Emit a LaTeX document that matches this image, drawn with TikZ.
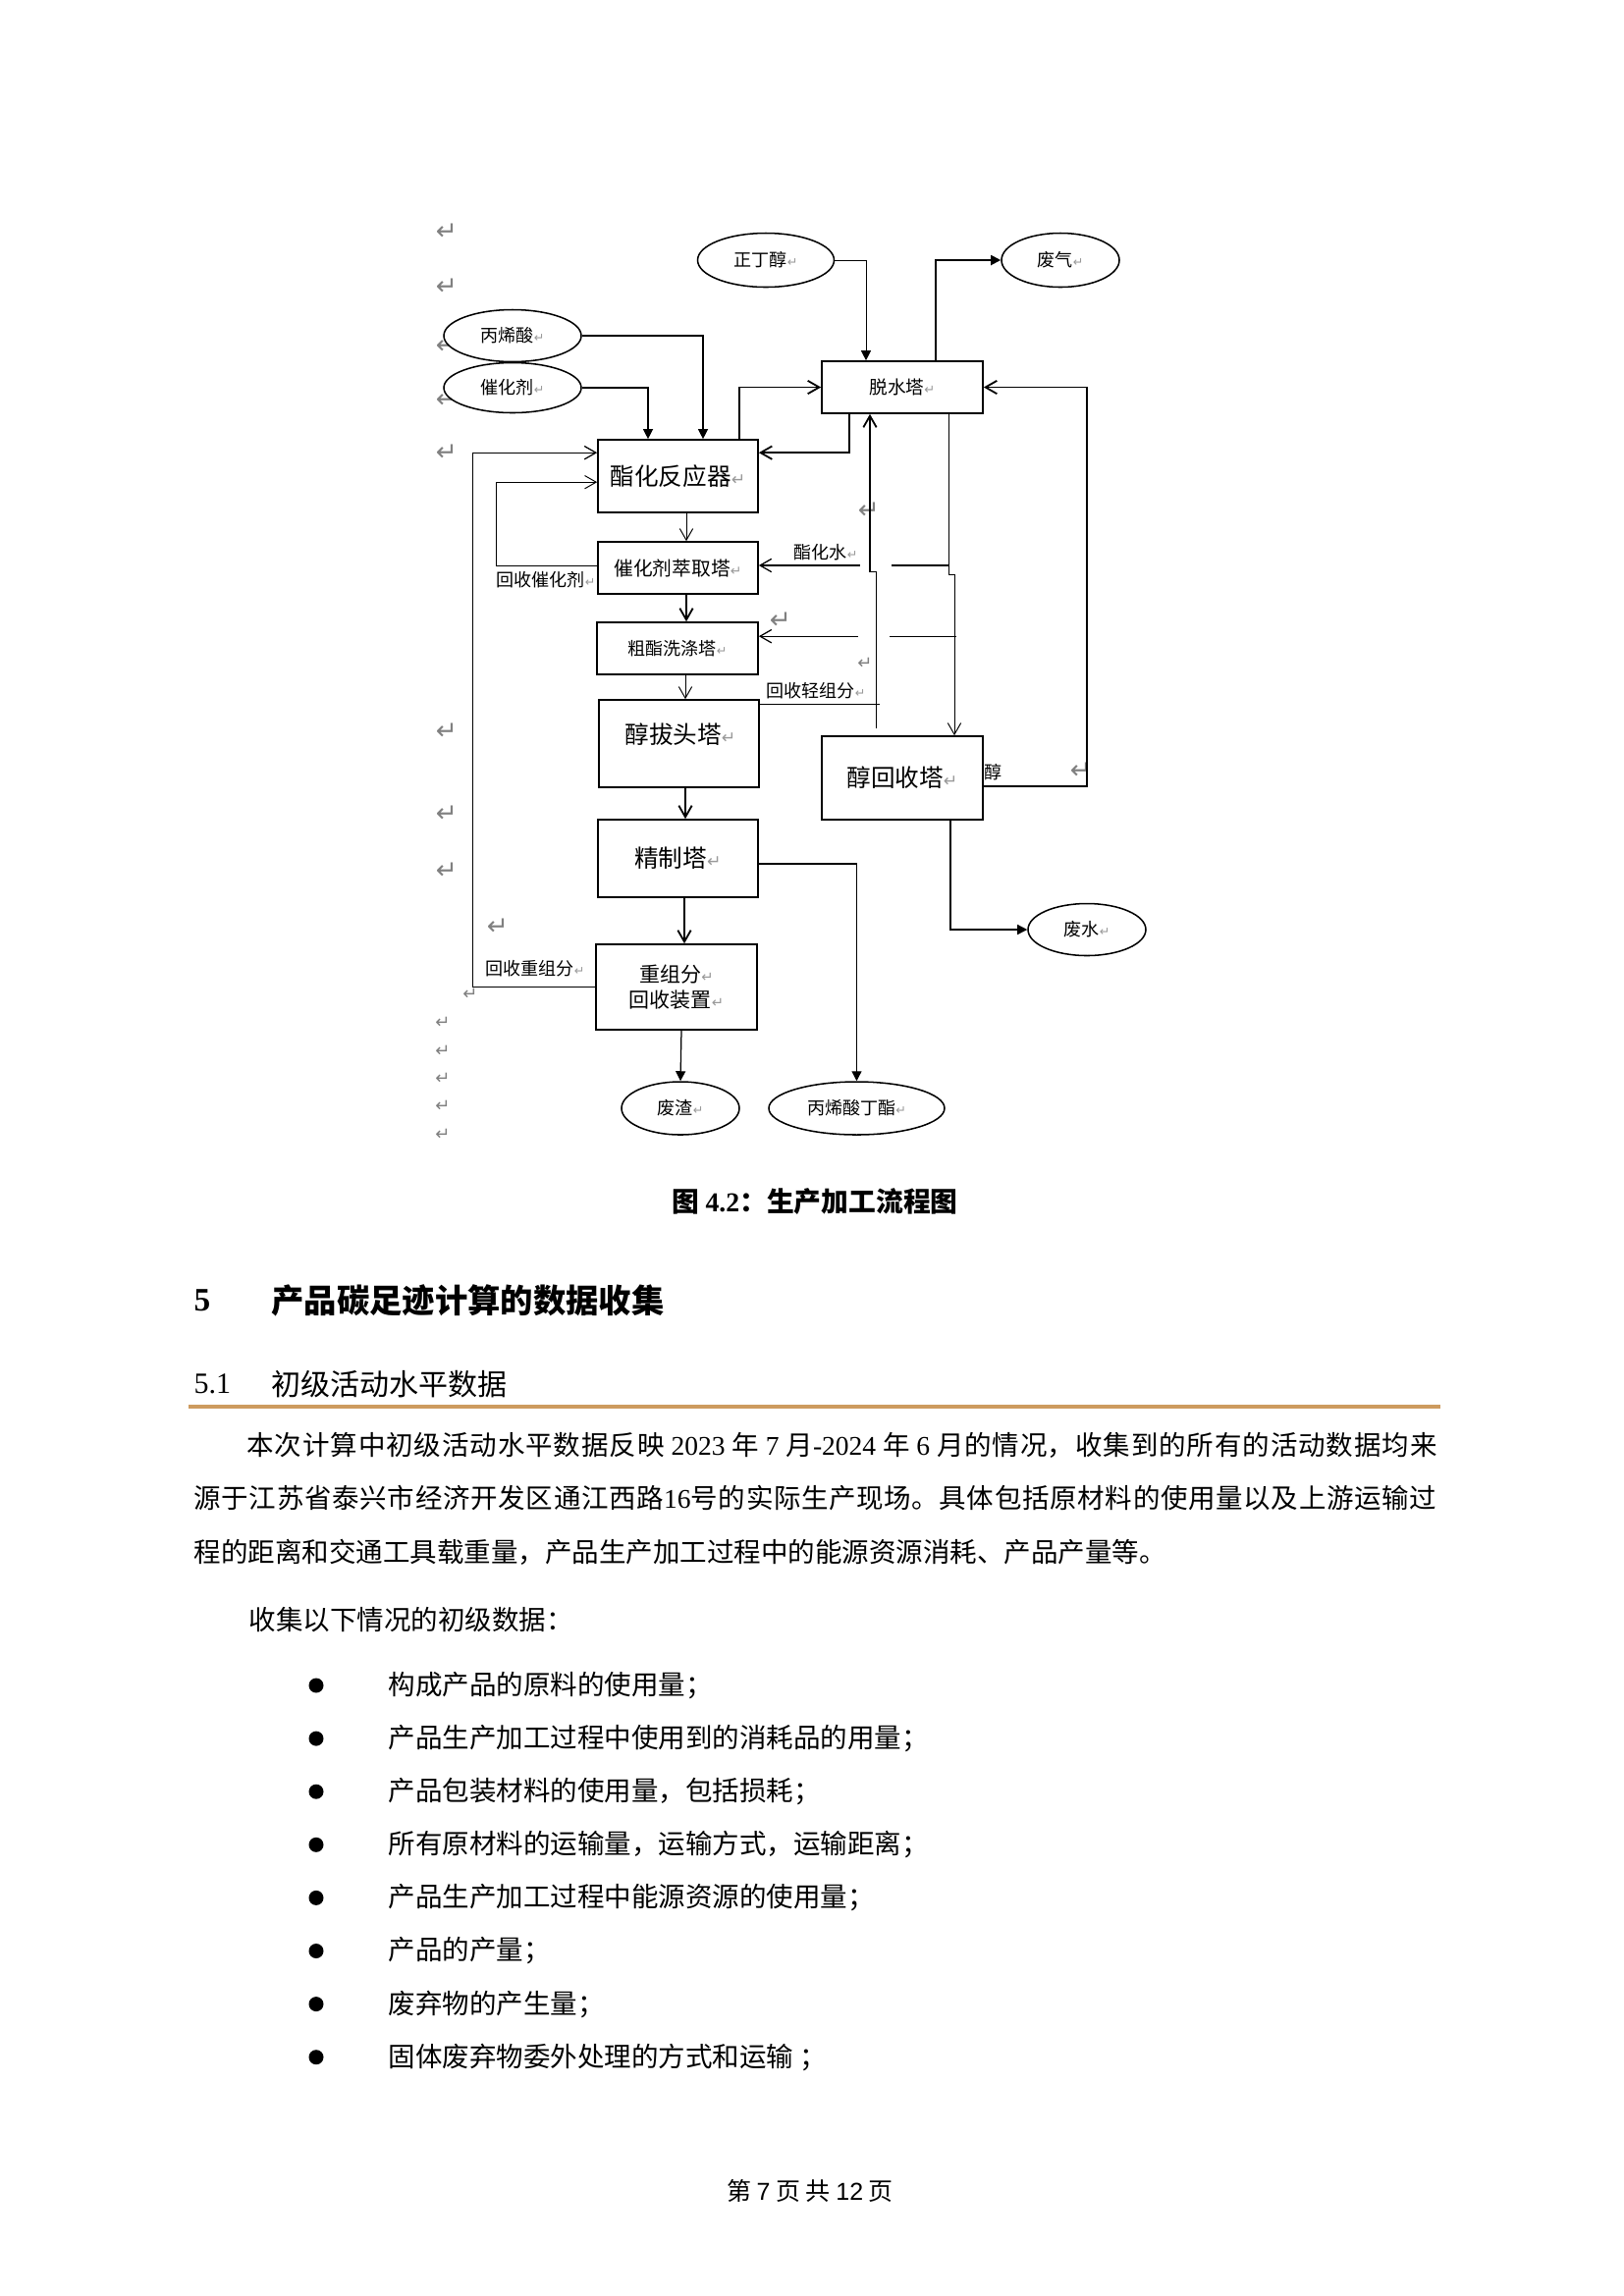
\documentclass[tikz,border=0pt]{standalone}
\usepackage{fontspec}
\setmainfont{Liberation Serif}
\newfontfamily\cjk{Noto Sans CJK SC}
\newfontfamily\dvs{DejaVu Sans}
\newfontfamily\lsans{Liberation Sans}
\usetikzlibrary{shapes.geometric,arrows.meta,calc}
\XeTeXlinebreaklocale "zh"
\XeTeXlinebreakskip=0pt plus 3pt
\newcommand\fs[1]{\fontsize{#1}{#1}\selectfont}
\newdimen\rtdim
\makeatletter
\newcommand\rt{{\rtdim=\f@size pt \rtdim=0.7\rtdim \color{black!40}\dvs\fontsize{\rtdim}{\rtdim}\selectfont ↵}}
\makeatother
\def\u{0.3599pt}
\definecolor{rulec}{RGB}{205,155,95}
\begin{document}
\begin{tikzpicture}[x=0.3599pt, y=-0.3599pt,
  pbox/.style={draw, rectangle, line width=0.6pt, inner sep=0pt, fill=white, align=center},
  ell/.style={draw, ellipse, line width=0.55pt, inner sep=0pt, fill=white, font=\cjk\fs{6.5}, minimum width=120*\u, minimum height=54*\u},
  lab/.style={inner sep=0pt, font=\cjk\fs{6.5}},
  bigmk/.style={inner sep=0pt, font=\dvs\fs{9.5}, text=black!50},
  smk/.style={inner sep=0pt, font=\dvs\fs{6.5}, text=black!50},
  thinl/.style={line width=0.35pt},
  medl/.style={line width=0.45pt},
  thickl/.style={line width=0.65pt},
  fa/.style={-{Triangle[length=3.6pt,width=3.6pt]}},
  oa/.style={-{Straight Barb[length=4.2pt,width=4.8pt]}},
  body/.style={anchor=west, inner sep=0pt, font=\cjk\fs{9.9}},
  jline/.style={anchor=west, inner sep=0pt, font=\cjk\fs{9.9}, align=justify},
  bul/.style={circle, fill=black, inner sep=0pt, minimum size=5.4pt}
]
\path[fill=white, use as bounding box] (0,0) rectangle (1654,2339);

% paragraph marks
\foreach \x/\y [count=\i] in {455/236,455/292,455/352,455/407,455/461,455/745,455/829,455/887,507/944,885/520,795/632,1101/785}
  \node[bigmk] (mk\i) at (\x,\y) {↵};
\foreach \x/\y [count=\i] in {479/1013,451/1042,451/1071,451/1099,451/1127,451/1156,881/676,697/790}
  \node[smk] (sk\i) at (\x,\y) {↵};

% nodes
\node[ell, minimum width=139*\u, minimum height=55*\u] (zdc) at (780,265) {正丁醇\rt};
\node[ell, minimum height=55*\u] (fq) at (1080,265) {废气\rt};
\node[ell, minimum width=140*\u, minimum height=53*\u] (bing) at (522,342) {丙烯酸\rt};
\node[ell, minimum width=140*\u, minimum height=51*\u] (cat) at (522,395) {催化剂\rt};
\node[pbox, minimum width=164*\u, minimum height=53*\u, font=\cjk\fs{6.7}] (tsh) at (919,394.5) {脱水塔\rt};
\node[pbox, minimum width=163*\u, minimum height=74*\u, font=\cjk\fs{8.85}] (rea) at (690.5,485) {酯化反应器\rt};
\node[pbox, minimum width=163*\u, minimum height=53*\u, font=\cjk\fs{7.1}] (ext) at (690.5,578.5) {催化剂萃取塔\rt};
\node[pbox, minimum width=164*\u, minimum height=53*\u, font=\cjk\fs{6.5}] (wash) at (690,660.5) {粗酯洗涤塔\rt};
\node[pbox, minimum width=163*\u, minimum height=89*\u] (strip) at (691.5,757.5) {};
\node[inner sep=0pt, font=\cjk\fs{8.85}] (tstrip) at (693,748) {醇拔头塔\rt};
\node[pbox, minimum width=163*\u, minimum height=79*\u, font=\cjk\fs{8.85}] (refine) at (690.5,874.5) {精制塔\rt};
\node[pbox, minimum width=164*\u, minimum height=87*\u, font=\cjk\fontsize{7.55}{9.4}\selectfont] (heavy) at (689,1005.5) {重组分\rt\\回收装置\rt};
\node[pbox, minimum width=164*\u, minimum height=85*\u, font=\cjk\fs{8.85}] (recov) at (919,792.5) {醇回收塔\rt};
\node[ell, minimum height=53*\u] (fs) at (1107,947) {废水\rt};
\node[ell] (fz) at (693,1129) {废渣\rt};
\node[ell, minimum width=179*\u] (prod) at (872.5,1129) {丙烯酸丁酯\rt};

% labels
\node[lab] (lzh) at (841,563) {酯化水\rt};
\node[lab] (lqz) at (831,704) {回收轻组分\rt};
\node[lab] (lcat) at (556,591) {回收催化剂\rt};
\node[lab] (lzz) at (545,987) {回收重组分\rt};
\node[lab] (lch) at (1012,787) {醇};

% connectors
\draw[medl,fa] (bing.east) -| ($(rea.north)+(25.5,0)$);
\draw[medl,fa] (cat.east) -| ($(rea.north)+(-30.5,0)$);
\draw[thinl,fa] (zdc.east) -| ($(tsh.north)+(-37,0)$);
\draw[thickl,fa] ($(tsh.north)+(34,0)$) |- (fq.west);
\draw[thickl,oa] ($(rea.north)+(62.5,0)$) |- (tsh.west);
\draw[thickl,oa] ($(tsh.south)+(-54,0)$) |- ($(rea.north east)+(0,14)$);
\draw[medl,oa] (heavy.west) -- ++(-125,0) |- ($(rea.north west)+(0,14)$);
\draw[thinl,oa] ($(ext.west)+(0,-2.5)$) -- ++(-103,0) |- ($(rea.north west)+(0,44)$);

\draw[thinl,oa] ($(rea.south)+(8.5,0)$) -- ($(ext.north)+(8.5,0)$);
\draw[thickl,oa] ($(ext.south)+(8.5,0)$) -- ($(wash.north)+(9,0)$);
\draw[thinl,oa] ($(wash.south)+(8,0)$) -- ($(strip.north)+(6.5,0)$);
\draw[thickl,oa] ($(strip.south)+(6.5,0)$) -- ($(refine.north)+(7.5,0)$);
\draw[thickl,oa] ($(refine.south)+(6.5,0)$) -- ($(heavy.north)+(8,0)$);
\draw[medl,fa] ($(heavy.south)+(5,0)$) -- (fz.north);
\draw[medl,fa] ($(refine.east)+(0,5.5)$) -| (prod.north);
\draw[medl,fa] ($(recov.south)+(49,0)$) |- (fs.west);
\draw[thickl,oa] ($(recov.east)+(0,8.5)$) -- ++(105,0) |- (tsh.east);

% light components back to dehydration tower
\draw[thinl] ($(strip.north east)+(0,5)$) -- ++(122,0);
\coordinate (jl) at ($(tsh.south)+(-33,161)$);
\draw[thinl] ($(recov.north)+(-27,-7)$) |- (jl);
\draw[thickl,oa] (jl) -- ($(tsh.south)+(-33,0)$);

% dehydration tower down to alcohol recovery
\coordinate (jr) at ($(tsh.south)+(47,164)$);
\draw[thinl,oa] ($(tsh.south)+(47,0)$) -- (jr) -- ++(6,0) -- ($(recov.north)+(53,0)$);

% esterification water
\draw[medl] ($(ext.east)+(194,-2.5)$) -- ++(-59,0);
\draw[medl,oa] ($(ext.east)+(103,-2.5)$) -- ($(ext.east)+(0,-2.5)$);
\draw[medl] ($(wash.north east)+(201,15)$) -- ++(-68,0);
\draw[medl,oa] ($(wash.north east)+(101,15)$) -- ($(wash.north east)+(0,15)$);

% caption and headings
\node[inner sep=0pt, font=\cjk\bfseries\fs{10}] (cap) at (830,1224) {图 {\rmfamily\bfseries 4.2}：生产加工流程图};
\node[anchor=west, inner sep=0pt, font=\rmfamily\bfseries\fs{12}] (h5n) at (197,1325) {5};
\node[anchor=west, inner sep=0pt, font=\cjk\bfseries\fs{12}] (h5) at (276,1325) {产品碳足迹计算的数据收集};
\node[anchor=west, inner sep=0pt, font=\rmfamily\fs{10.8}] (h51n) at (197,1410) {5.1};
\node[anchor=west, inner sep=0pt, font=\cjk\fs{10.8}] (h51) at (276,1410) {初级活动水平数据};
\draw[line width=1.1pt, rulec] (192,1433) -- (1467,1433);

% body
\node[jline, text width=436.2pt] (p1) at (251,1472) {\noindent\parfillskip=0pt\spaceskip=0.25em\relax\xspaceskip=0.25em\relax 本次计算中初级活动水平数据反映 {\rmfamily 2023} 年 {\rmfamily 7} 月{\rmfamily -2024} 年 {\rmfamily 6} 月的情况，收集到的所有的活动数据均来\par};
\node[jline, text width=455.6pt] (p2) at (197,1526) {\noindent\parfillskip=0pt\spaceskip=0.25em\relax\xspaceskip=0.25em\relax 源于江苏省泰兴市经济开发区通江西路{\rmfamily 16}号的实际生产现场。具体包括原材料的使用量以及上游运输过\par};
\node[body] (p3) at (197,1581) {程的距离和交通工具载重量，产品生产加工过程中的能源资源消耗、产品产量等。};
\node[body] (p4) at (253,1650) {收集以下情况的初级数据：};

\foreach \t [count=\i] in {构成产品的原料的使用量；,
  产品生产加工过程中使用到的消耗品的用量；,
  产品包装材料的使用量{，}包括损耗；,
  所有原材料的运输量{，}运输方式{，}运输距离；,
  产品生产加工过程中能源资源的使用量；,
  产品的产量；,
  废弃物的产生量；,
  固体废弃物委外处理的方式和运输 ；}
{
  \node[bul] (b\i) at (322,{1717+54.1*(\i-1)}) {};
  \node[body] (bt\i) at (395,{1717+54.1*(\i-1)}) {\t};
}

% footer
\node[inner sep=0pt, font=\cjk\fs{9}] (foot) at (825,2232) {第 {\lsans 7} 页 共 {\lsans 12} 页};
\end{tikzpicture}
\end{document}
